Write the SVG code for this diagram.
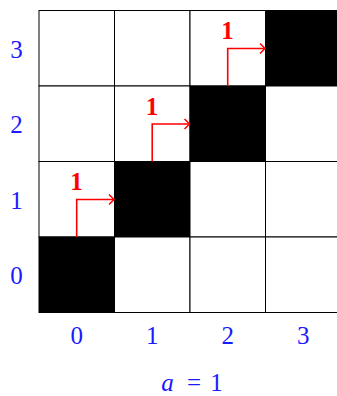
<svg xmlns="http://www.w3.org/2000/svg" width="337" height="396" viewBox="0 0 337 396">
<defs>
<marker id="arr" markerWidth="10" markerHeight="12" refX="8" refY="6" orient="auto" markerUnits="userSpaceOnUse">
<path d="M3,1 L8,6 L3,11" fill="none" stroke="#ff0000" stroke-width="1.5"/>
</marker>
</defs>
<style>
.cell{fill:#ffffff;stroke:#000000;stroke-width:1}
.blk{fill:#000000;stroke:#000000;stroke-width:1}
.lab{font-family:"Liberation Serif","Times New Roman",serif;font-size:25px;fill:#1a1aff;text-anchor:middle}
.one{font-family:"Liberation Serif","Times New Roman",serif;font-size:25px;font-weight:bold;fill:#ff0000;text-anchor:middle}
.conn{fill:none;stroke:#ff0000;stroke-width:1.6;marker-end:url(#arr)}
</style>
<rect width="337" height="396" fill="#ffffff"/>
<g id="grid">
<rect class="cell" x="39" y="10.5" width="75.5" height="75.5"/>
<rect class="cell" x="114.5" y="10.5" width="75.5" height="75.5"/>
<rect class="cell" x="190" y="10.5" width="75.5" height="75.5"/>
<rect class="blk" x="265.5" y="10.5" width="75.5" height="75.5"/>
<rect class="cell" x="39" y="86" width="75.5" height="75.5"/>
<rect class="cell" x="114.5" y="86" width="75.5" height="75.5"/>
<rect class="blk" x="190" y="86" width="75.5" height="75.5"/>
<rect class="cell" x="265.5" y="86" width="75.5" height="75.5"/>
<rect class="cell" x="39" y="161.5" width="75.5" height="75.5"/>
<rect class="blk" x="114.5" y="161.5" width="75.5" height="75.5"/>
<rect class="cell" x="190" y="161.5" width="75.5" height="75.5"/>
<rect class="cell" x="265.5" y="161.5" width="75.5" height="75.5"/>
<rect class="blk" x="39" y="237" width="75.5" height="75.5"/>
<rect class="cell" x="114.5" y="237" width="75.5" height="75.5"/>
<rect class="cell" x="190" y="237" width="75.5" height="75.5"/>
<rect class="cell" x="265.5" y="237" width="75.5" height="75.5"/>
</g>
<g id="row-labels">
<text class="lab" x="16.5" y="57.5">3</text>
<text class="lab" x="16.5" y="133">2</text>
<text class="lab" x="16.5" y="208.5">1</text>
<text class="lab" x="16.5" y="284">0</text>
</g>
<g id="col-labels">
<text class="lab" x="76.7" y="344">0</text>
<text class="lab" x="152.2" y="344">1</text>
<text class="lab" x="227.7" y="344">2</text>
<text class="lab" x="303.2" y="344">3</text>
</g>
<g id="connectors">
<path class="conn" d="M76.7,237 V199.5 H114"/>
<path class="conn" d="M152.2,161.5 V124 H189.5"/>
<path class="conn" d="M227.7,86 V48.5 H265"/>
</g>
<g id="edge-labels">
<text class="one" x="76.5" y="190">1</text>
<text class="one" x="152" y="114.5">1</text>
<text class="one" x="227.5" y="39">1</text>
</g>
<g id="caption">
<text class="lab" x="167.5" y="391" font-style="italic">a</text>
<text class="lab" x="194" y="391">=</text>
<text class="lab" x="216.5" y="391">1</text>
</g>
</svg>
